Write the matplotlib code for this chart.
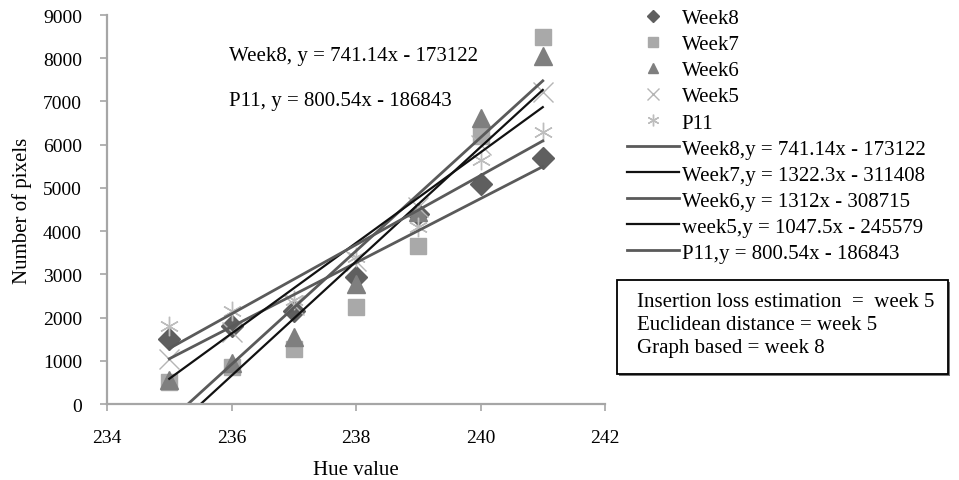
import numpy as np
import matplotlib
matplotlib.use("Agg")
import matplotlib.pyplot as plt
from matplotlib.patches import Rectangle

plt.rcParams['font.family'] = ['Liberation Serif', 'DejaVu Serif']

hue = [235, 236, 237, 238, 239, 240, 241]
week8 = [1500, 1800, 2150, 2950, 4400, 5100, 5700]
week7 = [500, 850, 1280, 2240, 3660, 6200, 8500]
week6 = [550, 950, 1550, 2780, 4450, 6620, 8050]
week5 = [1050, 1660, 2300, 3300, 4550, 6000, 7220]
p11 = [1800, 2150, 2400, 3400, 4100, 5650, 6300]

# trendline equations (slope, intercept)
trend_names = ["Week8,y = 741.14x - 173122", "Week7,y = 1322.3x - 311408",
               "Week6,y = 1312x - 308715", "week5,y = 1047.5x - 245579",
               "P11,y = 800.54x - 186843"]
slopes = [741.14, 1322.3, 1312.0, 1047.5, 800.54]
intercepts = [-173122, -311408, -308715, -245579, -186843]

fig = plt.figure(figsize=(9.59, 4.81), dpi=100)
ax = fig.add_axes([0.1116, 0.158, 0.5193, 0.8087])

fs = 14
fs2 = 15
ax.plot(hue, week8, linestyle='none', marker='D', color='#5f5f5f', ms=11, label='Week8')
ax.plot(hue, week7, linestyle='none', marker='s', color='#a9a9a9', ms=12, label='Week7')
ax.plot(hue, week6, linestyle='none', marker='^', color='#7f7f7f', ms=13, label='Week6')
ax.plot(hue, week5, linestyle='none', marker='x', color='#b5b5b5', ms=14, mew=1.0, label='Week5')
ax.plot(hue, p11, linestyle='none', marker=(6, 2, 0), color='#bdbdbd', ms=14, mew=1.0, label='P11')

xl = np.array([hue[0], hue[-1]], dtype=float)
line_colors = ['#5a5a5a', '#111111', '#5a5a5a', '#111111', '#5a5a5a']
line_widths = [2.0, 1.6, 2.0, 1.6, 2.0]
for name, m, b, c, lw in zip(trend_names, slopes, intercepts, line_colors, line_widths):
    ax.plot(xl, m * xl + b, color=c, lw=lw, label=name)

ax.set_xlim(234, 242)
ax.set_ylim(0, 9000)
ax.set_xticks([234, 236, 238, 240, 242])
ax.set_yticks(range(0, 9001, 1000))
for s in ['top', 'right']:
    ax.spines[s].set_visible(False)
for s in ['left', 'bottom']:
    ax.spines[s].set_color('#a6a6a6')
    ax.spines[s].set_linewidth(1.6)
ax.tick_params(axis='both', direction='out', length=5, width=1.2, color='#a6a6a6',
               labelsize=fs, pad=13)
ax.set_xlabel('Hue value', fontsize=fs2, labelpad=10)
ax.set_ylabel('Number of pixels', fontsize=fs2, labelpad=8)

ax.text(235.96, 8055, 'Week8, y = 741.14x - 173122', fontsize=fs2, va='center', ha='left')
ax.text(235.96, 7014, 'P11, y = 800.54x - 186843', fontsize=fs2, va='center', ha='left')

leg = ax.legend(loc='upper left', bbox_to_anchor=(0.652, 0.984), bbox_transform=fig.transFigure,
                frameon=False, fontsize=fs2, markerscale=0.6, handlelength=2.5,
                handletextpad=0.1, labelspacing=0.31, borderaxespad=0, borderpad=0.1)

# info box
fig.patches.append(Rectangle((619 / 959, 1 - 377 / 481), (948 - 617) / 959, (375 - 281) / 481,
                             transform=fig.transFigure, facecolor='#777777', edgecolor='none'))
fig.patches.append(Rectangle((617 / 959, 1 - 375 / 481), (948 - 617) / 959, (375 - 281) / 481,
                             transform=fig.transFigure, facecolor='white', edgecolor='black',
                             lw=1.3))
box_lines = ["Insertion loss estimation  =  week 5", "Euclidean distance = week 5",
             "Graph based = week 8"]
for i, t in enumerate(box_lines):
    fig.text(637 / 959, 1 - (303 + 23 * i) / 481, t, fontsize=fs2, va='center', ha='left')

fig.savefig('out.png', dpi=100)
